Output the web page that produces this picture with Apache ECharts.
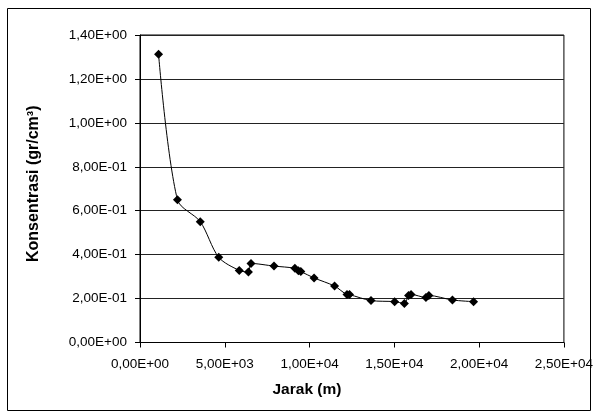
<!DOCTYPE html>
<html><head><meta charset="utf-8">
<script src="https://cdn.jsdelivr.net/npm/echarts@6/dist/echarts.min.js"></script>
<style>html,body{margin:0;padding:0;background:#fff}#c{width:596px;height:416px}</style>
</head><body><div id="c"></div>
<script>
var jarak = [1095, 2207, 3554, 4643, 5855, 6394, 6546, 7904, 9134, 9339, 9485, 10264, 11476, 12208, 12354, 13624, 15018, 15592, 15838, 15984, 16862, 17038, 18425, 19672];
var konsentrasi = [1.312, 0.650, 0.550, 0.388, 0.328, 0.321, 0.360, 0.348, 0.338, 0.327, 0.323, 0.294, 0.257, 0.219, 0.218, 0.191, 0.186, 0.178, 0.214, 0.219, 0.205, 0.214, 0.1935, 0.186];
var xTitle = 'Jarak (m)';
var yTitle = 'Konsentrasi (gr/cm\u00B3)';

function fmt(v) {
  var s = Number(v).toExponential(2);
  var m = s.split('e');
  var exp = parseInt(m[1], 10);
  var sign = exp < 0 ? '-' : '+';
  var a = Math.abs(exp);
  return m[0].replace('.', ',') + 'E' + sign + (a < 10 ? '0' + a : '' + a);
}

var data = jarak.map(function (x, i) { return [x, konsentrasi[i]]; });
var chart = echarts.init(document.getElementById('c'), null, {renderer: 'canvas'});
var font = 'Liberation Sans, Arial, sans-serif';
chart.setOption({
  animation: false,
  backgroundColor: '#fff',
  graphic: [{type: 'rect', shape: {x: 7.5, y: 8.5, width: 583, height: 402}, style: {fill: 'none', stroke: '#000', lineWidth: 1}, z: -1}],
  grid: {left: 140, right: 29, top: 35, bottom: 73.5, show: true, borderColor: '#000', borderWidth: 1, backgroundColor: 'transparent'},
  xAxis: {
    type: 'value', min: 0, max: 25000, interval: 5000,
    name: xTitle, nameLocation: 'middle', nameGap: 39,
    nameTextStyle: {fontFamily: font, fontWeight: 'bold', fontSize: 15.5, color: '#000', padding: [0, 90, 0, 0]},
    axisLine: {lineStyle: {color: '#000', width: 1}},
    axisTick: {show: true, inside: false, length: 5, lineStyle: {color: '#000'}},
    axisLabel: {formatter: fmt, fontFamily: font, fontSize: 13.5, color: '#000', margin: 15},
    splitLine: {show: false}
  },
  yAxis: {
    type: 'value', min: 0, max: 1.4, interval: 0.2,
    name: yTitle, nameLocation: 'middle', nameGap: 98,
    nameTextStyle: {fontFamily: font, fontWeight: 'bold', fontSize: 16, color: '#000', padding: [0, 0, 0, 10]},
    axisLine: {show: true, lineStyle: {color: '#000', width: 1}},
    axisTick: {show: true, inside: false, length: 5, lineStyle: {color: '#000'}},
    axisLabel: {formatter: fmt, fontFamily: font, fontSize: 13.5, color: '#000', margin: 13},
    splitLine: {show: true, lineStyle: {color: '#222', width: 1}}
  },
  series: [{
    type: 'line', data: data, smooth: 0.3,
    symbol: 'diamond', symbolSize: 9,
    itemStyle: {color: '#000'},
    lineStyle: {color: '#000', width: 1}
  }]
});
</script></body></html>
